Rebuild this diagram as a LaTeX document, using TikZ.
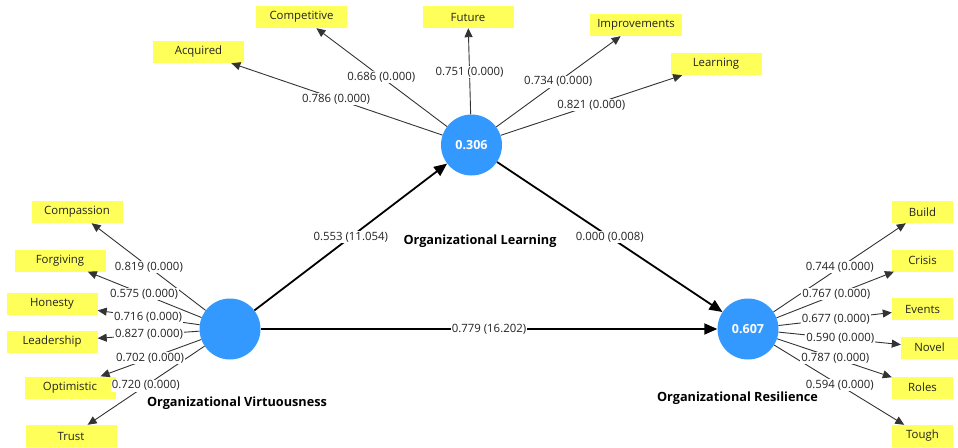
\documentclass[tikz,border=0pt]{standalone}
\usepackage{fontspec}
\setmainfont{Open Sans}
\usetikzlibrary{arrows.meta,calc}
\definecolor{plsblue}{RGB}{51,153,255}
\definecolor{plsyellow}{RGB}{255,255,90}
\definecolor{txtgray}{RGB}{35,35,35}
\begin{document}
\begin{tikzpicture}[x=1pt,y=-1pt,
  ind/.style={fill=plsyellow, minimum width=91pt, minimum height=22pt, inner sep=0pt, text=txtgray, font=\fontsize{11.4}{13}\selectfont},
  indr/.style={ind, minimum width=61pt},
  lv/.style={circle, fill=plsblue, minimum size=61pt, inner sep=0pt, text=white, font=\fontsize{12.5}{14}\selectfont\bfseries},
  ld/.style={draw=black!80, line width=0.9pt, -{Triangle[length=9pt,width=8pt]}},
  pth/.style={draw=black, line width=1.8pt, -{Triangle[length=13pt,width=11pt]}},
  wl/.style={fill=white, inner sep=1pt, text=txtgray, font=\fontsize{11.4}{13}\selectfont},
  lvname/.style={text=black, font=\fontsize{12.7}{14}\selectfont\bfseries}
]
\useasboundingbox (0,0) rectangle (958,447);

% latent variables
\node[lv] (ol) at (471.5,145) {0.306};
\node[lv] (ov) at (230,329) {};
\node[lv] (or) at (748,329) {0.607};
\node[lvname] (olname) at (480,241) {Organizational Learning};
\node[lvname] (ovname) at (237,403) {Organizational Virtuousness};
\node[lvname] (orname) at (737.5,398) {Organizational Resilience};

% indicators: top
\node[ind] (acq) at (198.5,52) {Acquired};
\node[ind] (comp) at (301.5,17) {Competitive};
\node[ind] (fut) at (468,17) {Future};
\node[ind, minimum width=92pt] (impr) at (636,25) {Improvements};
\node[ind] (learn) at (716,64) {Learning};
% indicators: left
\node[ind] (compa) at (77,212) {Compassion};
\node[ind] (forg) at (60,260.5) {Forgiving};
\node[ind] (hon) at (52,304) {Honesty};
\node[ind] (lead) at (52,341.5) {Leadership};
\node[ind] (opt) at (70,387.5) {Optimistic};
\node[ind] (trust) at (71,436) {Trust};
% indicators: right
\node[indr] (build) at (922.5,212) {Build};
\node[indr] (crisis) at (922.5,260.5) {Crisis};
\node[indr] (events) at (922.5,309) {Events};
\node[indr, minimum width=57pt] (novel) at (929.5,347.5) {Novel};
\node[indr] (roles) at (922.5,387.5) {Roles};
\node[indr] (tough) at (922.5,436) {Tough};

% loadings
\foreach \t in {acq,comp,fut,impr,learn} \draw[ld] (ol) -- (\t);
\foreach \t in {compa,forg,hon,lead,opt,trust} \draw[ld] (ov) -- (\t);
\foreach \t in {build,crisis,events,novel,roles,tough} \draw[ld] (or) -- (\t);

% structural paths
\draw[pth] (ov) -- (ol);
\draw[pth] (ol) -- (or);
\draw[pth] (ov) -- (or);

% labels
\node[wl] (p1) at ($(ov)!0.5!(ol)$) {0.553 (11.054)};
\node[wl] (p2) at ($(ol)!0.5!(or)$) {0.000 (0.008)};
\node[wl] (p3) at ($(ov)!0.5!(or)$) {0.779 (16.202)};

\node[wl] (a1) at ($(ol)!0.496!(acq)$) {0.786 (0.000)};
\node[wl] (a2) at ($(ol)!0.531!(comp)$) {0.686 (0.000)};
\node[wl] (a3) at ($(ol)!0.57!(fut)$) {0.751 (0.000)};
\node[wl] (a4) at ($(ol)!0.527!(impr)$) {0.734 (0.000)};
\node[wl] (a5) at ($(ol)!0.49!(learn)$) {0.821 (0.000)};

\node[wl] (b1) at ($(ov)!0.53!(compa)$) {0.819 (0.000)};
\node[wl] (b2) at ($(ov)!0.506!(forg)$) {0.575 (0.000)};
\node[wl] (b3) at ($(ov)!0.46!(hon)$) {0.716 (0.000)};
\node[wl] (b4) at ($(ov)!0.455!(lead)$) {0.827 (0.000)};
\node[wl] (b5) at ($(ov)!0.5!(opt)$) {0.702 (0.000)};
\node[wl] (b6) at ($(ov)!0.53!(trust)$) {0.720 (0.000)};

\node[wl] (c1) at ($(or)!0.526!(build)$) {0.744 (0.000)};
\node[wl] (c2) at ($(or)!0.506!(crisis)$) {0.767 (0.000)};
\node[wl] (c3) at ($(or)!0.503!(events)$) {0.677 (0.000)};
\node[wl] (c4) at ($(or)!0.508!(novel)$) {0.590 (0.000)};
\node[wl] (c5) at ($(or)!0.5!(roles)$) {0.787 (0.000)};
\node[wl] (c6) at ($(or)!0.526!(tough)$) {0.594 (0.000)};
\end{tikzpicture}
\end{document}
